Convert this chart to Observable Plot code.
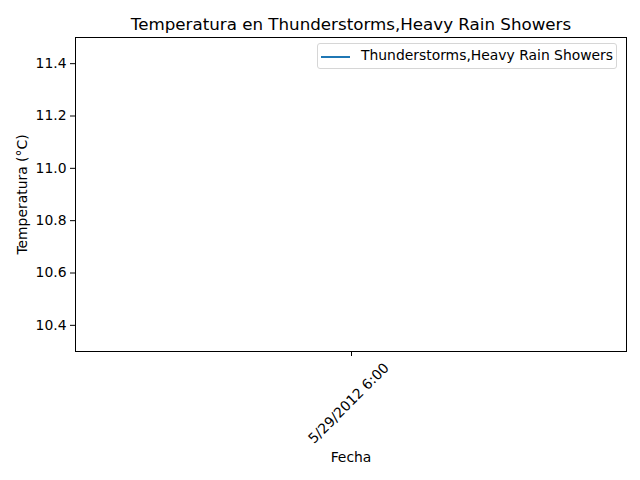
<!DOCTYPE html>
<html><head><meta charset="utf-8">
<script src="https://cdn.jsdelivr.net/npm/d3@7"></script>
<script src="https://cdn.jsdelivr.net/npm/@observablehq/plot@0.6"></script>
<style>
body{margin:0;background:#fff;}
#wrap{position:relative;width:640px;height:480px;font-family:"DejaVu Sans",sans-serif;}
#legend{position:absolute;left:317px;top:43px;width:300px;height:26px;box-sizing:border-box;border:1px solid #d6d6d6;border-radius:3px;background:rgba(255,255,255,0.8);font-size:13.9px;color:#000;}
#legend .sw{position:absolute;left:3px;top:12px;width:29px;height:0;border-top:2px solid #1f77b4;}
#legend .lb{position:absolute;left:43px;top:3px;white-space:nowrap;}
</style></head>
<body><div id="wrap"><div id="legend"><span class="sw"></span><span class="lb"></span></div></div>
<script>
const title = "Temperatura en Thunderstorms,Heavy Rain Showers";
const seriesName = "Thunderstorms,Heavy Rain Showers";
const dates = ["5/29/2012 6:00"];
const temps = [10.9];
const yTicks = [10.4, 10.6, 10.8, 11.0, 11.2, 11.4];
const yDomain = [10.3, 11.5];

const data = dates.map((d, i) => ({fecha: d, temp: temps[i]}));
document.querySelector("#legend .lb").textContent = seriesName;

const chart = Plot.plot({
  width: 640, height: 480,
  marginLeft: 75, marginRight: 14, marginTop: 37, marginBottom: 129,
  style: {fontFamily: "DejaVu Sans", fontSize: "13.9px", color: "#000", background: "#fff"},
  x: {type: "point", domain: dates},
  y: {domain: yDomain},
  marks: [
    Plot.frame({stroke: "#000", strokeWidth: 1}),
    Plot.axisY({ticks: yTicks, tickFormat: d3.format(".1f"), tickSize: 5, tickPadding: 4, label: "Temperatura (°C)", labelAnchor: "center", labelArrow: "none", labelOffset: 58, fontSize: 13.9}),
    Plot.axisX({tickSize: 5, text: null, label: null}),
    Plot.axisX({tickSize: 0, tickRotate: -45, tickPadding: 9, dx: 35, dy: 5, label: null, fontSize: 13.9}),
    Plot.text(["Fecha"], {frameAnchor: "bottom", dy: 110, fontSize: 13.9, fill: "#000"}),
    Plot.text([title], {frameAnchor: "top", dy: -19, fontSize: 16.7, fill: "#000"}),
    Plot.line(data, {x: "fecha", y: "temp", stroke: "#1f77b4", strokeWidth: 1.5, strokeLinecap: "butt"})
  ]
});
document.getElementById("wrap").prepend(chart);
</script></body></html>
